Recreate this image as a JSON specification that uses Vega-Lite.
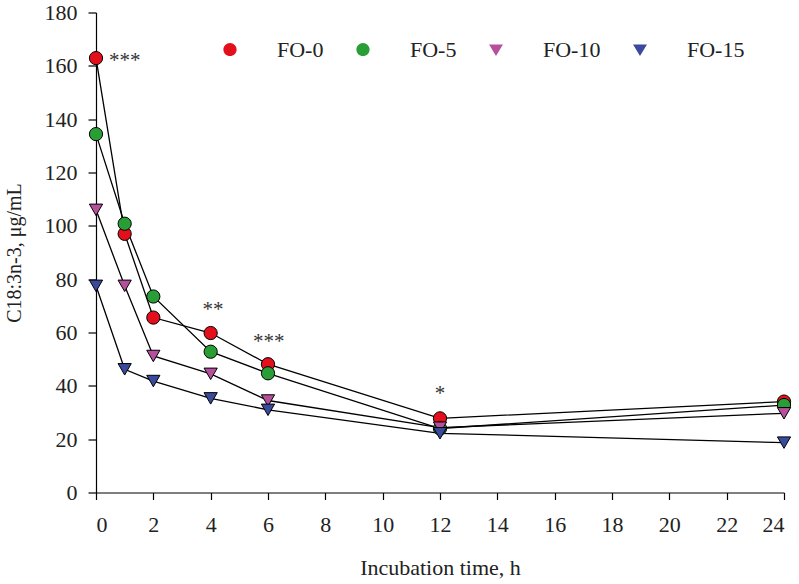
{
  "$schema": "https://vega.github.io/schema/vega-lite/v6.json",
  "width": 688,
  "height": 480,
  "autosize": {"type": "none"},
  "padding": {"left": 96, "top": 12.5, "right": 15, "bottom": 91.5},
  "background": "white",
  "config": {
    "view": {"stroke": null},
    "font": "Liberation Serif",
    "axis": {"grid": false, "domainColor": "black", "tickColor": "black", "labelColor": "#222", "titleColor": "#222", "labelFont": "Liberation Serif", "titleFont": "Liberation Serif", "labelFontSize": 22, "titleFontSize": 22, "titleFontWeight": "normal", "domainWidth": 1.2, "tickWidth": 1.2}
  },
  "datasets": {
    "pts": [
      {"series": "FO-0", "time": 0, "value": 162.9},
      {"series": "FO-0", "time": 1, "value": 97},
      {"series": "FO-0", "time": 2, "value": 65.6},
      {"series": "FO-0", "time": 4, "value": 59.8},
      {"series": "FO-0", "time": 6, "value": 48.1},
      {"series": "FO-0", "time": 12, "value": 27.8},
      {"series": "FO-0", "time": 24, "value": 34.1},
      {"series": "FO-5", "time": 0, "value": 134.4},
      {"series": "FO-5", "time": 1, "value": 100.8},
      {"series": "FO-5", "time": 2, "value": 73.5},
      {"series": "FO-5", "time": 4, "value": 52.8},
      {"series": "FO-5", "time": 6, "value": 44.7},
      {"series": "FO-5", "time": 12, "value": 24},
      {"series": "FO-5", "time": 24, "value": 32.8},
      {"series": "FO-10", "time": 0, "value": 106},
      {"series": "FO-10", "time": 1, "value": 77.5},
      {"series": "FO-10", "time": 2, "value": 51.2},
      {"series": "FO-10", "time": 4, "value": 44.5},
      {"series": "FO-10", "time": 6, "value": 34.5},
      {"series": "FO-10", "time": 12, "value": 24.3},
      {"series": "FO-10", "time": 24, "value": 29.7},
      {"series": "FO-15", "time": 0, "value": 77.5},
      {"series": "FO-15", "time": 1, "value": 46.2},
      {"series": "FO-15", "time": 2, "value": 41.8},
      {"series": "FO-15", "time": 4, "value": 35.3},
      {"series": "FO-15", "time": 6, "value": 31},
      {"series": "FO-15", "time": 12, "value": 22.2},
      {"series": "FO-15", "time": 24, "value": 18.7}
    ],
    "ann": [
      {"time": 1.0, "value": 162, "label": "***"},
      {"time": 4.08, "value": 68.5, "label": "**"},
      {"time": 6.03, "value": 56.6, "label": "***"},
      {"time": 12, "value": 37, "label": "*"}
    ]
  },
  "resolve": {"scale": {"shape": "independent", "fill": "independent"}},
  "layer": [
    {
      "data": {"name": "pts"},
      "mark": {"type": "line", "color": "black", "strokeWidth": 1.3},
      "encoding": {
        "x": {"field": "time", "type": "quantitative", "scale": {"domain": [0, 24], "nice": false, "zero": false},
              "axis": {"values": [0,2,4,6,8,10,12,14,16,18,20,22,24], "tickSize": 7, "labelPadding": 15, "title": "Incubation time, h", "titlePadding": 22}},
        "y": {"field": "value", "type": "quantitative", "scale": {"domain": [0, 180], "nice": false},
              "axis": {"values": [0,20,40,60,80,100,120,140,160,180], "tickSize": 8, "labelPadding": 11, "title": "C18:3n-3, μg/mL", "titleFontSize": 20, "titlePadding": 20}},
        "detail": {"field": "series"}
      }
    },
    {
      "data": {"name": "pts"},
      "mark": {"type": "point", "filled": true, "stroke": "black", "strokeWidth": 1, "size": 175, "opacity": 1},
      "encoding": {
        "x": {"field": "time", "type": "quantitative"},
        "y": {"field": "value", "type": "quantitative"},
        "fill": {"field": "series", "type": "nominal",
                  "scale": {"domain": ["FO-0", "FO-5", "FO-10", "FO-15"], "range": ["#e3101c", "#2a9e36", "#b4509c", "#3a4a9c"]},
                  "legend": null},
        "shape": {"field": "series", "type": "nominal",
                  "scale": {"domain": ["FO-0", "FO-5", "FO-10", "FO-15"], "range": ["circle", "circle", "triangle-down", "triangle-down"]},
                  "legend": null}
      }
    },
    {
      "data": {"name": "pts"},
      "transform": [{"filter": "datum.time < -100"}],
      "mark": {"type": "point", "filled": true, "stroke": "black", "strokeWidth": 1, "size": 175, "opacity": 1},
      "encoding": {
        "x": {"field": "time", "type": "quantitative"},
        "y": {"field": "value", "type": "quantitative"},
        "fill": {"field": "series", "type": "nominal",
                  "scale": {"domain": ["FO-0", "FO-5", "FO-10", "FO-15"], "range": ["#e3101c", "#2a9e36", "#b4509c", "#3a4a9c"]},
                  "legend": {"title": null, "orient": "none", "legendX": 123, "legendY": 26, "direction": "horizontal", "padding": 0,
                             "labelFont": "Liberation Serif", "labelFontSize": 22, "labelColor": "#222", "labelOffset": 36, "columnPadding": 19,
                             "symbolSize": 175, "symbolStrokeColor": "black", "symbolStrokeWidth": 1,
                             "encode": {"symbols": {"stroke": {"value": "black"}, "strokeWidth": {"value": 1}}}}},
        "shape": {"field": "series", "type": "nominal",
                  "scale": {"domain": ["FO-0", "FO-5", "FO-10", "FO-15"], "range": ["M-2.7,0H-1M1,0H2.7M-1,0A1,1 0 1,1 1,0A1,1 0 1,1 -1,0Z", "M-2.7,0H-1M1,0H2.7M-1,0A1,1 0 1,1 1,0A1,1 0 1,1 -1,0Z", "M-2.7,-0.55H2.7M-1.05,-0.75L1.05,-0.75L0,1Z", "M-2.7,-0.55H2.7M-1.05,-0.75L1.05,-0.75L0,1Z"]},
                  "legend": {"title": null, "orient": "none", "legendX": 123, "legendY": 26, "direction": "horizontal", "padding": 0,
                             "labelFont": "Liberation Serif", "labelFontSize": 22, "labelColor": "#222", "labelOffset": 36, "columnPadding": 19,
                             "symbolSize": 175, "symbolStrokeColor": "black", "symbolStrokeWidth": 1,
                             "encode": {"symbols": {"stroke": {"value": "black"}, "strokeWidth": {"value": 1}}}}}
      }
    },
    {
      "data": {"name": "ann"},
      "mark": {"type": "text", "font": "Liberation Serif", "fontSize": 21, "color": "#333", "baseline": "middle", "align": "center"},
      "encoding": {
        "x": {"field": "time", "type": "quantitative"},
        "y": {"field": "value", "type": "quantitative"},
        "text": {"field": "label"}
      }
    }
  ]
}
